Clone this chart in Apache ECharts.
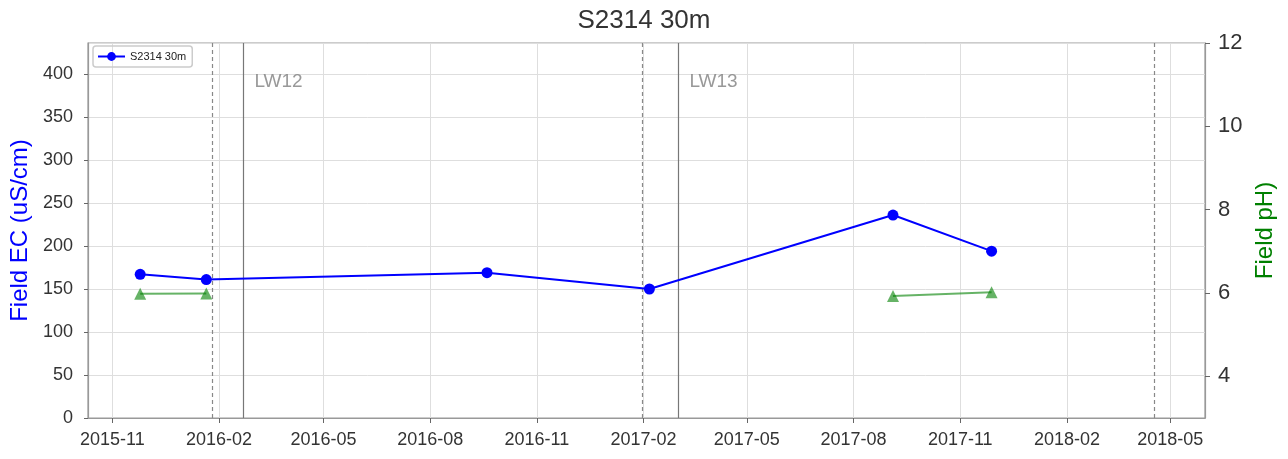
<!DOCTYPE html>
<html><head><meta charset="utf-8">
<script src="https://cdn.jsdelivr.net/npm/echarts@6/dist/echarts.min.js"></script>
<style>html,body{margin:0;padding:0;background:#fff}#c{width:1288px;height:459px}</style>
</head><body><div id="c"></div>
<script>
const ecDates = ['2015-11-25','2016-01-21','2016-09-19','2017-02-06','2017-09-04','2017-11-28'];
const ecValues = [167, 161, 169, 150, 236, 194];
const phDates = ['2015-11-25','2016-01-21','2017-09-04','2017-11-28'];
const phValues = [5.98, 5.99, 5.93, 6.02];
const xTickDates = ['2015-11-01','2016-02-01','2016-05-01','2016-08-01','2016-11-01','2017-02-01','2017-05-01','2017-08-01','2017-11-01','2018-02-01','2018-05-01'];
const dashedDates = ['2016-01-26','2017-01-31','2018-04-17'];
const lwDates = ['2016-02-22','2017-03-03'];
const lwNames = ['LW12','LW13'];
const phTicks = [4,6,8,10,12];

const ts = s => new Date(s + 'T00:00:00').getTime();
const chart = echarts.init(document.getElementById('c'));
const font = 'Liberation Sans, Arial, sans-serif';

const markData = dashedDates.map(d => ({xAxis: ts(d), lineStyle:{type:[4,3], color:'#888', width:1.2}}))
  .concat(lwDates.map(d => ({xAxis: ts(d), lineStyle:{type:'solid', color:'#777', width:1.2}})));

// pH line is broken where samples are far apart (no line across the gap)
const phData = [];
phDates.forEach((d,i) => {
  if (i > 0 && ts(d) - ts(phDates[i-1]) > 200*86400000) {
    phData.push([(ts(d) + ts(phDates[i-1]))/2, '-']);
  }
  phData.push([ts(d), phValues[i]]);
});

chart.setOption({
  animation:false,
  textStyle:{fontFamily:font},
  title:{text:'S2314 30m', left:'center', top:3, textStyle:{fontSize:26, fontWeight:'normal', color:'#333', fontFamily:font}},
  grid:{left:88, right:83, top:43, bottom:41, show:true, borderColor:'#999', borderWidth:1.2},
  legend:{data:['S2314 30m'], left:93, top:46, orient:'vertical', itemWidth:27, itemHeight:11, itemGap:4,
    padding:[5,6,5,4], borderColor:'#ccc', borderWidth:1.5, borderRadius:3,
    textStyle:{fontSize:11, color:'#222', fontFamily:font}},
  xAxis:{type:'time', min:ts('2015-10-11'), max:ts('2018-05-31'),
    axisLine:{show:true, lineStyle:{color:'#999', width:1.2}},
    axisTick:{show:true, length:5, lineStyle:{color:'#666'}, customValues: xTickDates.map(ts)},
    axisLabel:{customValues: xTickDates.map(ts), formatter:'{yyyy}-{MM}', fontSize:18, color:'#333', margin:13, fontFamily:font},
    splitLine:{show:true, lineStyle:{color:'#dedede', width:1}}
  },
  yAxis:[
    {type:'value', min:0, max:436, interval:50,
      name:'Field EC (uS/cm)', nameLocation:'middle', nameGap:55, nameRotate:90,
      nameTextStyle:{color:'#0000ff', fontSize:24, fontFamily:font},
      axisLine:{show:true, lineStyle:{color:'#999', width:1.2}},
      axisTick:{show:true, length:4, lineStyle:{color:'#666'}},
      axisLabel:{fontSize:18, color:'#333', showMaxLabel:false, margin:15, fontFamily:font},
      splitLine:{show:true, lineStyle:{color:'#dedede', width:1}}},
    {type:'value', min:3, max:12, position:'right',
      name:'Field pH)', nameLocation:'middle', nameGap:48, nameRotate:90,
      nameTextStyle:{color:'#008000', fontSize:24, fontFamily:font},
      axisLine:{show:true, lineStyle:{color:'#999', width:1.2}},
      axisTick:{show:true, length:5, customValues:phTicks, lineStyle:{color:'#666'}},
      axisLabel:{customValues:phTicks, fontSize:22, color:'#333', margin:13, fontFamily:font},
      splitLine:{show:false}}
  ],
  series:[
    {name:'S2314 30m', type:'line', yAxisIndex:0, data: ecDates.map((d,i)=>[ts(d), ecValues[i]]),
      symbol:'circle', symbolSize:11, itemStyle:{color:'#0000ff'}, lineStyle:{color:'#0000ff', width:2},
      z:5,
      markLine:{silent:true, symbol:['none','none'], label:{show:false}, data: markData}},
    {name:'pH', type:'line', yAxisIndex:1, data: phData,
      symbol:'triangle', symbolSize:12, itemStyle:{color:'rgba(0,128,0,0.6)'}, lineStyle:{color:'rgba(0,128,0,0.6)', width:2},
      connectNulls:false, z:4},
    {name:'labels', type:'scatter', yAxisIndex:0, symbolSize:0, silent:true,
      data: lwDates.map((d,i)=>({value:[ts(d), 391], name:lwNames[i]})),
      label:{show:true, position:'right', distance:11, formatter: p => p.name, fontSize:19, color:'#808080', fontFamily:font}}
  ]
});
</script></body></html>
